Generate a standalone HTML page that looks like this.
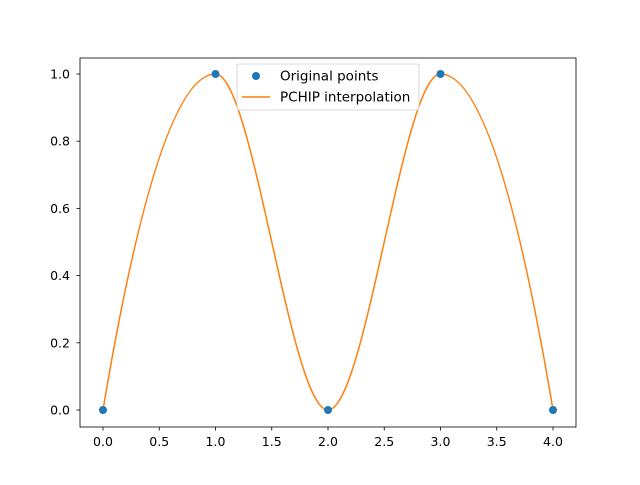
<!DOCTYPE html>
<html><head><meta charset="utf-8"><style>body{margin:0;background:#fff}</style></head><body>
<svg width="640" height="480" xmlns="http://www.w3.org/2000/svg" font-family="DejaVu Sans, Liberation Sans, sans-serif" font-size="12.5">
<rect width="640" height="480" fill="#fff"/>
<path d="M103,410 Q159.25,74 215.5,74 C253,74 290.5,410 328,410 C365.5,410 403,74 440.5,74 Q496.75,74 553,410" fill="none" stroke="#ff7f0e" stroke-width="1.5"/>
<g fill="#1f77b4"><circle cx="103" cy="410" r="4"/><circle cx="215.5" cy="74" r="4"/><circle cx="328" cy="410" r="4"/><circle cx="440.5" cy="74" r="4"/><circle cx="553" cy="410" r="4"/></g>
<rect x="80" y="58" width="496" height="369" fill="none" stroke="#000" stroke-width="0.8"/>
<g stroke="#000" stroke-width="0.8">
<line x1="103" y1="427" x2="103" y2="430.5"/><line x1="159.25" y1="427" x2="159.25" y2="430.5"/><line x1="215.5" y1="427" x2="215.5" y2="430.5"/><line x1="271.75" y1="427" x2="271.75" y2="430.5"/><line x1="328" y1="427" x2="328" y2="430.5"/><line x1="384.25" y1="427" x2="384.25" y2="430.5"/><line x1="440.5" y1="427" x2="440.5" y2="430.5"/><line x1="496.75" y1="427" x2="496.75" y2="430.5"/><line x1="553" y1="427" x2="553" y2="430.5"/>
<line x1="76.5" y1="410" x2="80" y2="410"/><line x1="76.5" y1="342.8" x2="80" y2="342.8"/><line x1="76.5" y1="275.6" x2="80" y2="275.6"/><line x1="76.5" y1="208.4" x2="80" y2="208.4"/><line x1="76.5" y1="141.2" x2="80" y2="141.2"/><line x1="76.5" y1="74" x2="80" y2="74"/>
</g>
<g text-anchor="middle">
<text x="103" y="446">0.0</text><text x="159.25" y="446">0.5</text><text x="215.5" y="446">1.0</text><text x="271.75" y="446">1.5</text><text x="328" y="446">2.0</text><text x="384.25" y="446">2.5</text><text x="440.5" y="446">3.0</text><text x="496.75" y="446">3.5</text><text x="553" y="446">4.0</text>
</g>
<g text-anchor="end">
<text x="70" y="414.5">0.0</text><text x="70" y="347.3">0.2</text><text x="70" y="280.1">0.4</text><text x="70" y="212.9">0.6</text><text x="70" y="145.7">0.8</text><text x="70" y="78.5">1.0</text>
</g>
<rect x="237" y="64" width="182" height="46" rx="2" fill="#fff" fill-opacity="0.8" stroke="#ccc" stroke-width="0.8"/>
<circle cx="256" cy="76" r="4" fill="#1f77b4"/>
<line x1="242" y1="97" x2="270" y2="97" stroke="#ff7f0e" stroke-width="1.5"/>
<text x="280" y="80.5" font-size="13.5">Original points</text>
<text x="280" y="101.5" font-size="13.5">PCHIP interpolation</text>
</svg>
</body></html>
